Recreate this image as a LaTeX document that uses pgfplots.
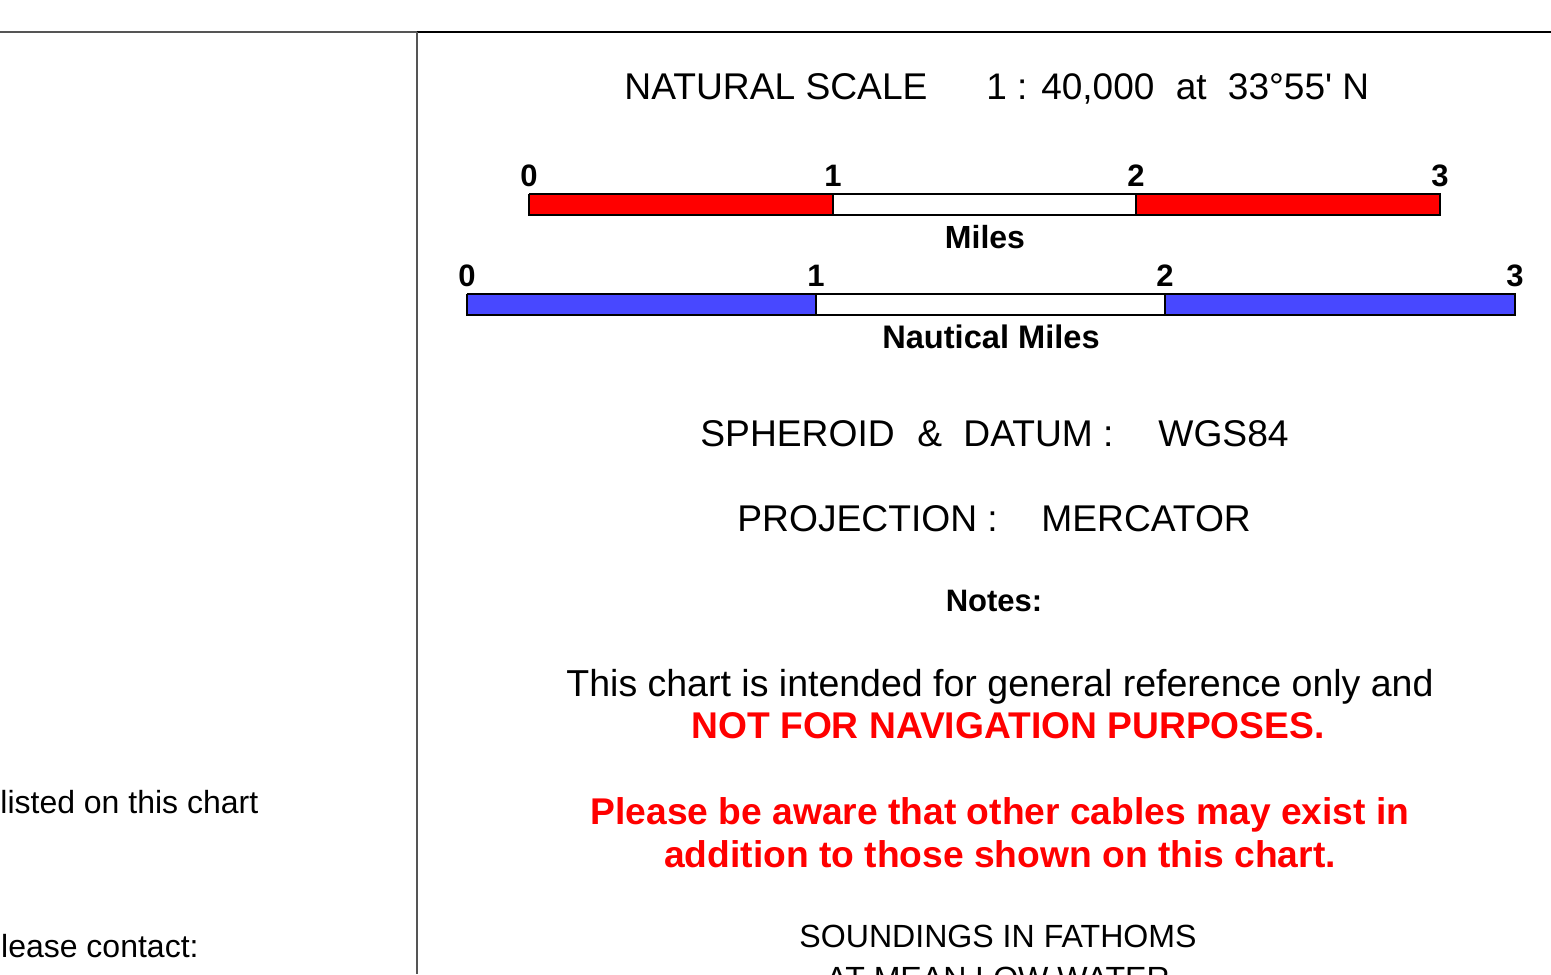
\documentclass[border=0pt]{standalone}
\usepackage{pgfplots}
\pgfplotsset{compat=1.18}
\usepackage{fontspec}
\setmainfont{Liberation Sans}[Ligatures=TeXOff]
\definecolor{barred}{RGB}{255,0,0}
\definecolor{barblue}{RGB}{72,72,255}
\definecolor{linegray}{RGB}{85,85,85}
\newcommand{\fs}[1]{\fontsize{#1}{#1}\selectfont}
\tikzset{num/.style={anchor=base, inner sep=0, font=\fs{15.5pt}\bfseries}}
\begin{document}
\begin{tikzpicture}
\useasboundingbox (0,0) rectangle (775.5pt,487pt);
\clip (0,0) rectangle (775.5pt,487pt);
\begin{axis}[at={(0,0)}, anchor=south west, scale only axis,
  width=775.5pt, height=487pt,
  xmin=0, xmax=1551, ymin=0, ymax=974, y dir=reverse,
  hide axis, clip=false]
% frame lines
\addplot[linegray, line width=1.1pt, forget plot] coordinates {(0,32) (417,32)};
\addplot[black, line width=1.1pt, forget plot] coordinates {(417,32) (1551,32)};
\addplot[linegray, line width=1.1pt, forget plot] coordinates {(417,32) (417,974)};
% Miles bar
\addplot[fill=barred, draw=black, line width=1pt, line join=miter] coordinates {(529,194) (833,194) (833,215) (529,215) (529,194)};
\addplot[fill=white, draw=black, line width=1pt, line join=miter] coordinates {(833,194) (1136,194) (1136,215) (833,215) (833,194)};
\addplot[fill=barred, draw=black, line width=1pt, line join=miter] coordinates {(1136,194) (1440,194) (1440,215) (1136,215) (1136,194)};
% Nautical miles bar
\addplot[fill=barblue, draw=black, line width=1pt, line join=miter] coordinates {(467,294) (816,294) (816,315) (467,315) (467,294)};
\addplot[fill=white, draw=black, line width=1pt, line join=miter] coordinates {(816,294) (1165,294) (1165,315) (816,315) (816,294)};
\addplot[fill=barblue, draw=black, line width=1pt, line join=miter] coordinates {(1165,294) (1515,294) (1515,315) (1165,315) (1165,294)};
% scale numbers
\node[num] at (axis cs:529,186) {0};
\node[num] at (axis cs:833,186) {1};
\node[num] at (axis cs:1136,186) {2};
\node[num] at (axis cs:1440,186) {3};
\node[num] at (axis cs:467,286) {0};
\node[num] at (axis cs:816,286) {1};
\node[num] at (axis cs:1165,286) {2};
\node[num] at (axis cs:1515,286) {3};
\node[anchor=base, inner sep=0, font=\fs{16pt}\bfseries] at (axis cs:985,248) {Miles};
\node[anchor=base, inner sep=0, font=\fs{16.3pt}\bfseries] at (axis cs:991,348) {Nautical Miles};
% titles
\node[anchor=base west, inner sep=0, font=\fs{18.6pt}] at (axis cs:624,100) {NATURAL SCALE};
\node[anchor=base west, inner sep=0, font=\fs{18.5pt}] at (axis cs:986,100) {1 : 40,000\hspace{0.3em} at\hspace{0.3em} 33°55' N};
\node[anchor=base west, inner sep=0, font=\fs{18.6pt}] at (axis cs:700,446) {SPHEROID};
\node[anchor=base west, inner sep=0, font=\fs{18.6pt}] at (axis cs:917,446) {\&};
\node[anchor=base west, inner sep=0, font=\fs{18.6pt}] at (axis cs:963,446) {DATUM :};
\node[anchor=base west, inner sep=0, font=\fs{18.6pt}] at (axis cs:1158,446) {WGS84};
\node[anchor=base west, inner sep=0, font=\fs{18.6pt}] at (axis cs:737,531) {PROJECTION :};
\node[anchor=base west, inner sep=0, font=\fs{18.6pt}] at (axis cs:1041,531) {MERCATOR};
\node[anchor=base, inner sep=0, font=\fs{15.5pt}\bfseries] at (axis cs:994,611) {Notes:};
\node[anchor=base, inner sep=0, font=\fs{18.75pt}] at (axis cs:1000,696) {This chart is intended for general reference only and};
\node[anchor=base, inner sep=0, font=\fs{18.6pt}\bfseries, text=barred] at (axis cs:1008,738) {NOT FOR NAVIGATION PURPOSES.};
\node[anchor=base, inner sep=0, font=\fs{18.6pt}\bfseries, text=barred] at (axis cs:1000,824) {Please be aware that other cables may exist in};
\node[anchor=base, inner sep=0, font=\fs{18.6pt}\bfseries, text=barred] at (axis cs:1000,867) {addition to those shown on this chart.};
\node[anchor=base, inner sep=0, font=\fs{16.05pt}] at (axis cs:998,947) {SOUNDINGS IN FATHOMS};
\node[anchor=base, inner sep=0, font=\fs{16.05pt}] at (axis cs:998,989) {AT MEAN LOW WATER};
% left panel text
\node[anchor=base west, inner sep=0, font=\fs{16pt}] at (axis cs:0,813) {listed on this chart};
\node[anchor=base east, inner sep=0, font=\fs{16pt}] at (axis cs:199,957) {Please contact:};
\end{axis}
\end{tikzpicture}
\end{document}
